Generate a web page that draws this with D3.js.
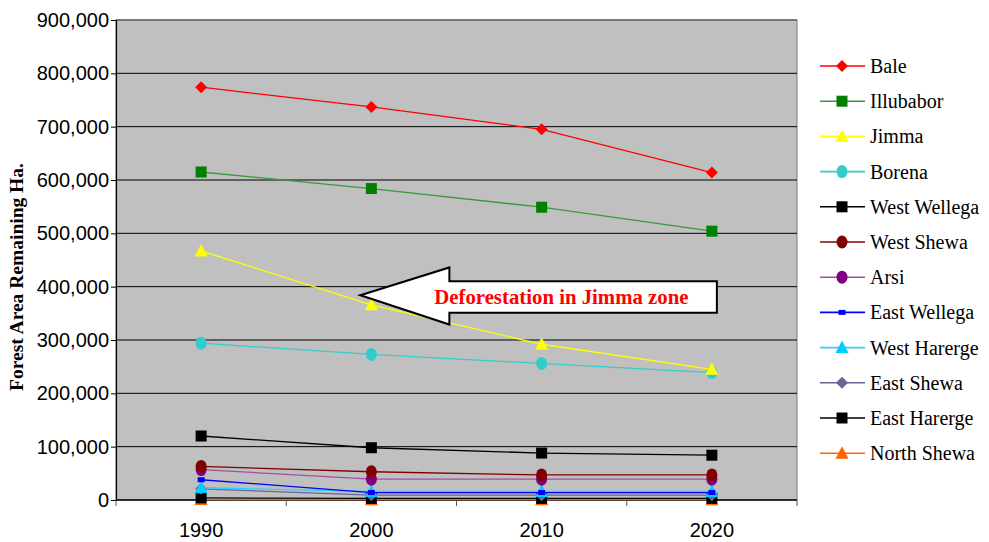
<!DOCTYPE html>
<html>
<head>
<meta charset="utf-8">
<script src="https://cdn.jsdelivr.net/npm/d3@7"></script>
<style>
  html, body { margin: 0; padding: 0; background: #ffffff; }
  svg { display: block; }
</style>
</head>
<body>
<svg id="chart" width="989" height="542"></svg>
<script>
// Census years (category axis)
const years = ["1990", "2000", "2010", "2020"];

// Remaining forest area (ha) per zone
const bale         = [774000, 737000, 695000, 614000];
const illubabor    = [615000, 584000, 549000, 504000];
const jimma        = [467000, 366000, 292000, 245000];
const borena       = [294000, 273000, 256000, 239000];
const westWellega  = [120000, 98000, 88000, 84000];
const westShewa    = [63000, 53000, 47000, 47000];
const arsi         = [57000, 39000, 39000, 39000];
const eastWellega  = [38000, 14000, 14000, 14000];
const westHarerge  = [23000, 16000, 16000, 16000];
const eastShewa    = [21000, 9000, 9000, 9000];
const eastHarerge  = [4000, 3000, 3000, 3000];
const northShewa   = [800, 700, 700, 700];

const zoneNames = ["Bale", "Illubabor", "Jimma", "Borena", "West Wellega", "West Shewa",
                   "Arsi", "East Wellega", "West Harerge", "East Shewa", "East Harerge", "North Shewa"];

const yTicks = [0, 100000, 200000, 300000, 400000, 500000, 600000, 700000, 800000, 900000];

// Series styling: line colour, marker colour, marker shape
const styles = [
  { line: "#ff0000", fill: "#ff0000", shape: "diamond" },
  { line: "#3a9a3a", fill: "#008000", shape: "square" },
  { line: "#ffff00", fill: "#ffff00", shape: "triangle" },
  { line: "#33cccc", fill: "#33cccc", shape: "circle" },
  { line: "#000000", fill: "#000000", shape: "square" },
  { line: "#800000", fill: "#800000", shape: "circle" },
  { line: "#a050a0", fill: "#800080", shape: "circle" },
  { line: "#0000ff", fill: "#0000ff", shape: "dash" },
  { line: "#33ccff", fill: "#00ccff", shape: "triangle" },
  { line: "#666699", fill: "#666699", shape: "diamond" },
  { line: "#000000", fill: "#000000", shape: "square" },
  { line: "#ff6600", fill: "#ff6600", shape: "triangle" }
];

const seriesValues = [bale, illubabor, jimma, borena, westWellega, westShewa,
                      arsi, eastWellega, westHarerge, eastShewa, eastHarerge, northShewa];
const series = zoneNames.map((name, i) => ({ name, values: seriesValues[i], style: styles[i] }));

const svg = d3.select("#chart");
const plot = { left: 116, right: 797, top: 20, bottom: 500 };

const x = d3.scaleBand().domain(years).range([plot.left, plot.right]);
const y = d3.scaleLinear().domain([0, 900000]).range([plot.bottom, plot.top]);
const fmt = d3.format(",");

// Plot background
svg.append("rect")
  .attr("x", plot.left).attr("y", plot.top)
  .attr("width", plot.right - plot.left).attr("height", plot.bottom - plot.top)
  .attr("fill", "#c0c0c0")
  .attr("stroke", "#8c8c8c").attr("stroke-width", 1.2);

// Horizontal gridlines
svg.append("g")
  .selectAll("line")
  .data(yTicks.filter(d => d > 0))
  .join("line")
  .attr("x1", plot.left).attr("x2", plot.right)
  .attr("y1", d => y(d)).attr("y2", d => y(d))
  .attr("stroke", d => d === 900000 ? "#666666" : "#000000")
  .attr("stroke-width", d => d === 900000 ? 1.6 : 1);

// Y axis
const yAxis = svg.append("g")
  .attr("transform", `translate(${plot.left},0)`)
  .call(d3.axisLeft(y).tickValues(yTicks).tickFormat(fmt).tickSize(5).tickPadding(2));
yAxis.select(".domain").attr("stroke", "#000").attr("stroke-width", 1.2);
yAxis.selectAll(".tick line").attr("stroke", "#000");
yAxis.selectAll("text")
  .attr("font-family", "'Liberation Sans', Arial, sans-serif")
  .attr("font-size", 20).attr("fill", "#000");

// X axis: ticks on category boundaries
const xAxisG = svg.append("g").attr("transform", `translate(0,${plot.bottom})`);
xAxisG.append("line")
  .attr("x1", plot.left).attr("x2", plot.right)
  .attr("stroke", "#000").attr("stroke-width", 1.5);
const boundaries = years.map(d => x(d)).concat([x(years[years.length - 1]) + x.bandwidth()]);
xAxisG.selectAll("line.tk")
  .data(boundaries)
  .join("line")
  .attr("class", "tk")
  .attr("x1", d => d).attr("x2", d => d)
  .attr("y1", 0).attr("y2", 6)
  .attr("stroke", "#555").attr("stroke-width", 1);
xAxisG.selectAll("text")
  .data(years)
  .join("text")
  .attr("x", d => x(d) + x.bandwidth() / 2)
  .attr("y", 37)
  .attr("text-anchor", "middle")
  .attr("font-family", "'Liberation Sans', Arial, sans-serif")
  .attr("font-size", 20)
  .text(d => d);

// Y axis title
svg.append("text")
  .attr("transform", `translate(23,${(plot.top + plot.bottom) / 2 + 17}) rotate(-90)`)
  .attr("text-anchor", "middle")
  .attr("font-family", "'Liberation Serif', 'Times New Roman', serif")
  .attr("font-weight", "bold")
  .attr("font-size", 19.5)
  .text("Forest Area Remaining Ha.");

// Marker drawing helper
function drawMarker(g, shape, fill) {
  if (shape === "diamond") {
    g.append("path").attr("d", "M0,-6 L6,0 L0,6 L-6,0 Z").attr("fill", fill);
  } else if (shape === "square") {
    g.append("rect").attr("x", -5.5).attr("y", -5.5).attr("width", 11).attr("height", 11).attr("fill", fill);
  } else if (shape === "triangle") {
    g.append("path").attr("d", "M0,-7 L6.5,5.5 L-6.5,5.5 Z").attr("fill", fill);
  } else if (shape === "circle") {
    g.append("ellipse").attr("rx", 5.5).attr("ry", 6.5).attr("fill", fill);
  } else if (shape === "dash") {
    g.append("rect").attr("x", -3.5).attr("y", -2.5).attr("width", 7).attr("height", 5).attr("fill", fill);
  }
}

const cx = d => x(d) + x.bandwidth() / 2;
const line = d3.line().x(d => cx(d.year)).y(d => y(d.value));

// Lines and markers (draw in reverse so the first series sits on top)
const seriesG = svg.append("g");
series.slice().reverse().forEach(s => {
  const pts = years.map((yr, i) => ({ year: yr, value: s.values[i] }));
  seriesG.append("path")
    .datum(pts)
    .attr("d", line)
    .attr("fill", "none")
    .attr("stroke", s.style.line)
    .attr("stroke-width", 1.3);
  pts.forEach(p => {
    const g = seriesG.append("g").attr("transform", `translate(${cx(p.year)},${y(p.value)})`);
    drawMarker(g, s.style.shape, s.style.fill);
  });
});

// Annotation arrow pointing at the Jimma line
const tipX = cx("2000") - 11, tipY = y(384000);
const headX = cx("2000") + 78;
const endX = cx("2020") + 5;
const headTop = y(436000), headBot = y(329000);
const shaftTop = y(410000), shaftBot = y(351000);
svg.append("path")
  .attr("d", `M${tipX},${tipY} L${headX},${headTop} L${headX},${shaftTop} L${endX},${shaftTop} ` +
             `L${endX},${shaftBot} L${headX},${shaftBot} L${headX},${headBot} Z`)
  .attr("fill", "#ffffff")
  .attr("stroke", "#000000")
  .attr("stroke-width", 2)
  .attr("stroke-linejoin", "miter");
svg.append("text")
  .attr("x", headX + 112)
  .attr("y", (shaftTop + shaftBot) / 2 + 7)
  .attr("text-anchor", "middle")
  .attr("font-family", "'Liberation Serif', 'Times New Roman', serif")
  .attr("font-weight", "bold")
  .attr("font-size", 20.8)
  .attr("fill", "#ff0000")
  .text("Deforestation in Jimma zone");

// Legend
const legend = svg.append("g").attr("transform", "translate(820,66)");
series.forEach((s, i) => {
  const g = legend.append("g").attr("transform", `translate(0,${i * 35.2})`);
  g.append("line").attr("x1", 0).attr("x2", 45).attr("y1", 0).attr("y2", 0)
    .attr("stroke", s.style.line).attr("stroke-width", 1.6);
  const m = g.append("g").attr("transform", "translate(22,0)");
  drawMarker(m, s.style.shape, s.style.fill);
  g.append("text")
    .attr("x", 50).attr("y", 7)
    .attr("font-family", "'Liberation Serif', 'Times New Roman', serif")
    .attr("font-size", 20)
    .text(s.name);
});
</script>
</body>
</html>
